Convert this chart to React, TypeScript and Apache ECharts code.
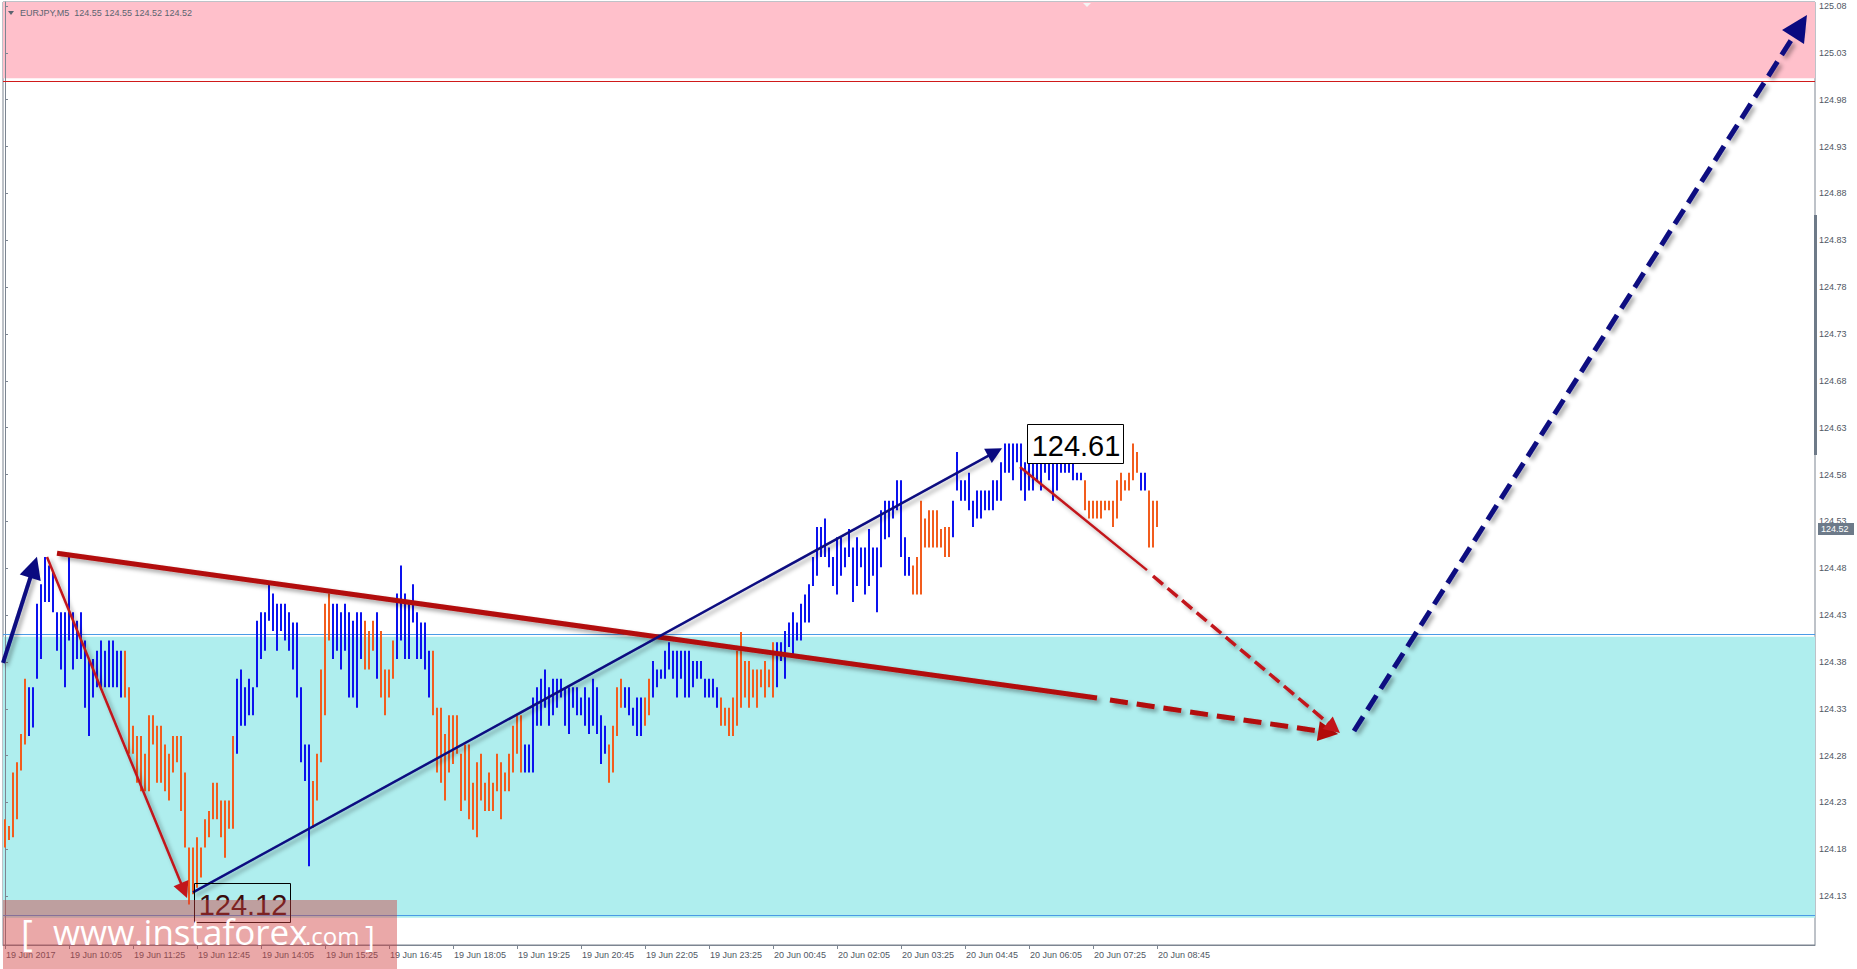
import React, { useEffect, useRef } from 'react';
import * as echarts from 'echarts';

// ---------- data ----------
const symbolTitle = 'EURJPY,M5';
const lastOHLC = [124.55, 124.55, 124.52, 124.52];
const currentPrice = 124.52;

// M5 bars, 19 Jun 2017 08:45 .. 20 Jun 2017 08:45 (index 0..288)
const barLows = [
  124.182,124.190,124.193,124.212,124.264,124.292,124.301,124.310,124.362,124.383,
  124.444,124.444,124.433,124.392,124.372,124.353,124.403,124.372,124.383,124.383,
  124.331,124.301,124.342,124.353,124.353,124.353,124.353,124.353,124.353,124.342,
  124.342,124.282,124.282,124.251,124.242,124.242,124.242,124.292,124.251,124.251,
  124.242,124.232,124.262,124.273,124.221,124.182,124.121,124.132,124.139,124.150,
  124.182,124.193,124.212,124.212,124.193,124.171,124.202,124.202,124.282,124.312,
  124.312,124.323,124.323,124.353,124.383,124.392,124.424,124.413,124.392,124.413,
  124.403,124.392,124.372,124.342,124.273,124.253,124.162,124.203,124.232,124.273,
  124.323,124.403,124.383,124.392,124.372,124.392,124.342,124.342,124.331,124.383,
  124.372,124.372,124.392,124.362,124.342,124.323,124.342,124.362,124.383,124.403,
  124.383,124.383,124.422,124.383,124.383,124.372,124.342,
  124.323,124.262,124.251,124.232,124.262,124.271,124.282,124.221,124.232,124.212,
  124.201,124.193,124.232,124.221,124.221,124.221,124.242,124.212,124.242,124.242,
  124.262,124.282,124.262,124.262,124.262,124.262,124.312,124.312,124.331,124.312,
  124.323,124.331,124.342,124.312,124.303,124.331,124.323,124.323,124.312,124.303,
  124.312,124.303,124.271,124.282,124.251,124.262,124.301,124.331,124.331,124.323,
  124.312,124.301,124.301,124.312,124.323,124.342,124.353,124.362,124.362,124.372,
  124.362,124.342,124.362,124.342,124.342,124.353,124.362,124.362,124.342,124.342,
  124.342,124.331,124.312,124.312,124.301,124.301,124.312,124.331,124.342,124.331,
  124.342,124.331,124.353,124.342,124.353,124.342,124.353,124.381,
  124.362,124.396,124.388,124.403,124.403,124.422,124.422,124.461,124.472,124.492,
  124.492,124.481,124.461,124.452,124.472,124.481,124.492,124.444,124.461,124.481,
  124.452,124.461,124.472,124.433,124.481,124.511,124.513,124.533,124.542,124.492,
  124.472,124.472,124.452,124.452,124.452,124.502,124.502,124.502,124.502,124.502,
  124.492,124.492,124.513,124.563,124.552,124.552,124.542,124.524,124.533,124.533,
  124.542,124.542,124.542,124.552,124.552,124.582,124.582,124.574,124.593,124.563,
  124.552,124.563,124.563,124.574,124.563,124.582,124.574,124.552,124.563,124.582,
  124.582,124.582,124.574,124.574,124.574,124.542,124.533,124.533,124.533,124.533,
  124.542,124.542,124.524,124.533,124.552,124.563,124.563,124.574,124.582,124.563,
  124.563,124.502,124.502,124.524,
];
const barHighs = [
  124.212,124.205,124.262,124.273,124.303,124.362,124.353,124.353,124.442,124.463,
  124.492,124.483,124.477,124.433,124.433,124.433,124.492,124.433,124.424,124.433,
  124.403,124.383,124.383,124.392,124.403,124.392,124.403,124.403,124.392,124.392,
  124.392,124.353,124.312,124.301,124.301,124.282,124.323,124.323,124.312,124.312,
  124.292,124.282,124.301,124.301,124.301,124.262,124.182,124.182,124.193,124.182,
  124.212,124.221,124.251,124.251,124.232,124.232,124.232,124.301,124.362,124.372,
  124.353,124.362,124.353,124.424,124.433,124.433,124.463,124.453,124.442,124.442,
  124.442,124.433,124.422,124.422,124.353,124.292,124.292,124.253,124.282,124.372,
  124.442,124.453,124.442,124.442,124.433,124.442,124.433,124.424,124.433,124.433,
  124.424,124.413,124.424,124.433,124.413,124.372,124.372,124.403,124.453,124.483,
  124.453,124.442,124.463,124.433,124.422,124.422,124.392,
  124.392,124.331,124.331,124.303,124.323,124.323,124.323,124.282,124.292,124.292,
  124.251,124.273,124.282,124.251,124.262,124.251,124.282,124.273,124.262,124.282,
  124.312,124.323,124.323,124.292,124.292,124.342,124.353,124.362,124.372,124.353,
  124.362,124.362,124.362,124.353,124.353,124.353,124.353,124.342,124.353,124.342,
  124.362,124.353,124.323,124.312,124.292,124.312,124.353,124.362,124.353,124.353,
  124.331,124.342,124.342,124.342,124.362,124.381,124.372,124.372,124.392,124.401,
  124.392,124.392,124.392,124.392,124.392,124.381,124.381,124.381,124.362,124.362,
  124.362,124.353,124.342,124.331,124.331,124.342,124.392,124.412,124.381,124.381,
  124.372,124.372,124.372,124.381,124.372,124.401,124.401,124.401,
  124.413,124.422,124.433,124.422,124.442,124.452,124.463,124.492,124.524,124.524,
  124.533,124.502,124.492,124.513,124.513,124.502,124.522,124.502,124.513,124.502,
  124.502,124.522,124.502,124.502,124.542,124.552,124.552,124.552,124.574,124.574,
  124.513,124.492,124.483,124.492,124.552,124.533,124.542,124.542,124.542,124.522,
  124.524,124.524,124.552,124.604,124.574,124.574,124.582,124.552,124.563,124.563,
  124.563,124.563,124.574,124.574,124.593,124.613,124.613,124.613,124.613,124.613,
  124.593,124.593,124.593,124.593,124.593,124.593,124.593,124.604,124.593,124.613,
  124.604,124.593,124.593,124.582,124.582,124.574,124.552,124.552,124.552,124.552,
  124.552,124.552,124.552,124.574,124.582,124.574,124.582,124.613,124.604,124.582,
  124.582,124.563,124.552,124.552,
];
// bar colour runs: B = rising bar (blue), O = falling bar (orange)
const barColorRuns: [string, number][] = [
  ['O', 6], ['B', 24], ['O', 28], ['B', 19], ['O', 5], ['B', 8], ['O', 3], ['B', 1],
  ['O', 4], ['B', 9], ['O', 23], ['B', 21], ['O', 4], ['B', 5], ['O', 2], ['B', 17],
  ['O', 14], ['B', 34], ['O', 10], ['B', 33], ['O', 14], ['B', 2], ['O', 3],
];

const xTickIndex = [0, 16, 32, 48, 64, 80, 96, 112, 128, 144, 160, 176, 192, 208, 224, 240, 256, 272, 288];
const xTickLabels = [
  '19 Jun 2017', '19 Jun 10:05', '19 Jun 11:25', '19 Jun 12:45', '19 Jun 14:05', '19 Jun 15:25',
  '19 Jun 16:45', '19 Jun 18:05', '19 Jun 19:25', '19 Jun 20:45', '19 Jun 22:05', '19 Jun 23:25',
  '20 Jun 00:45', '20 Jun 02:05', '20 Jun 03:25', '20 Jun 04:45', '20 Jun 06:05', '20 Jun 07:25',
  '20 Jun 08:45',
];
const yTickValues = [
  124.13, 124.18, 124.23, 124.28, 124.33, 124.38, 124.43, 124.48, 124.53, 124.58,
  124.63, 124.68, 124.73, 124.78, 124.83, 124.88, 124.93, 124.98, 125.03, 125.08,
];

// zones (price)
const resistanceZone = [125.003, 125.0843];
const supportZone = [124.107, 124.407];

// wave annotations: [barIndex, price]
const waveA = [[-0.5, 124.379], [7.15, 124.481]];
const waveB = [[10.5, 124.492], [44.75, 124.136]];
const waveC = [[47, 124.134], [247.5, 124.604]];
const trendLine = [[13, 124.496], [273, 124.3415]];
const trendForecast = [[276.25, 124.3393], [330.8, 124.3047]];
const waveDsolid = [[253.75, 124.588], [285.5, 124.478]];
const waveDforecast = [[287, 124.4717], [332.2, 124.3096]];
const waveEforecast = [[337.25, 124.3063], [448.75, 125.0587]];

// price tags [barIndex, price of the top-left corner]
const tagTexts = ['124.61', '124.12'];
const tagAnchors = [[255.5, 124.634], [47.25, 124.144]];

// ---------- styles ----------
const BLUE = '#0c12ee';
const ORANGE = '#f25c1d';
const NAVY = '#0a0a80';
const RED_THICK = '#b20a0a';
const RED_THIN = '#c2161b';
const AXIS_COLOR = '#7c8591';
const LABEL_COLOR = '#4f5764';
const FONT = '"Liberation Sans", Arial, sans-serif';

function expandRuns(runs: [string, number][]) {
  const out: string[] = [];
  runs.forEach(([c, n]) => { for (let k = 0; k < n; k++) out.push(c); });
  return out;
}

function seg(coords: number[][], color: string, width: number, dash: any, arrow: number) {
  return {
    type: 'lines',
    coordinateSystem: 'cartesian2d',
    z: 5,
    silent: true,
    symbol: arrow ? ['none', 'triangle'] : ['none', 'none'],
    symbolSize: arrow || 1,
    lineStyle: {
      color, width, type: dash, opacity: 1, curveness: 0,
      shadowColor: 'rgba(0,0,0,0.35)', shadowBlur: 4, shadowOffsetX: 3, shadowOffsetY: 3,
    },
    data: [{ coords }],
  };
}

export default function App() {
  const ref = useRef<HTMLDivElement>(null);

  useEffect(() => {
    if (!ref.current) return;
    const chart = echarts.init(ref.current, undefined, { renderer: 'svg' });
    const colors = expandRuns(barColorRuns);
    const bars = barLows.map((lo, i) => [i, lo, barHighs[i], colors[i] === 'B' ? 1 : 0]);

    const option: any = {
      animation: false,
      backgroundColor: '#ffffff',
      grid: {
        left: 3, right: 42, top: 2, bottom: 24,
        show: true, borderColor: AXIS_COLOR, borderWidth: 1, backgroundColor: '#ffffff',
      },
      xAxis: {
        type: 'value',
        min: -0.5,
        max: 452.5,
        splitLine: { show: false },
        axisLine: { show: true, lineStyle: { color: AXIS_COLOR } },
        axisTick: { show: true, customValues: xTickIndex, length: 4, lineStyle: { color: AXIS_COLOR } },
        axisLabel: {
          customValues: xTickIndex,
          formatter: (v: number) => {
            const k = xTickIndex.indexOf(Math.round(v));
            return k >= 0 ? xTickLabels[k] : '';
          },
          align: 'left',
          padding: [0, 0, 0, 1],
          margin: 5,
          fontSize: 9,
          fontFamily: FONT,
          color: LABEL_COLOR,
        },
      },
      yAxis: {
        type: 'value',
        position: 'right',
        min: 124.0779,
        max: 125.0843,
        splitLine: { show: false },
        axisLine: { show: true, lineStyle: { color: AXIS_COLOR } },
        axisTick: { show: true, customValues: yTickValues, length: 3, lineStyle: { color: AXIS_COLOR } },
        axisLabel: {
          customValues: yTickValues,
          formatter: (v: number) => v.toFixed(2),
          margin: 4,
          fontSize: 9,
          fontFamily: FONT,
          color: LABEL_COLOR,
        },
      },
      series: [
        {
          type: 'custom',
          name: 'bars',
          z: 2,
          silent: true,
          encode: { x: 0, y: [1, 2] },
          data: bars,
          renderItem: (params: any, api: any) => {
            const i = api.value(0);
            const lo = api.coord([i, api.value(1)]);
            const hi = api.coord([i, api.value(2)]);
            const up = api.value(3) === 1;
            return {
              type: 'rect',
              shape: { x: Math.round(lo[0]) - 1, y: hi[1], width: 2, height: Math.max(lo[1] - hi[1], 1) },
              style: { fill: up ? BLUE : ORANGE },
            };
          },
          markArea: {
            silent: true,
            z: 0,
            data: [
              [{ yAxis: resistanceZone[0], itemStyle: { color: '#ffc0cb' } }, { yAxis: resistanceZone[1] }],
              [{ yAxis: supportZone[0], itemStyle: { color: '#afeeee' } }, { yAxis: supportZone[1] }],
            ],
          },
          markLine: {
            silent: true,
            z: 1,
            symbol: ['none', 'none'],
            label: { show: false },
            data: [
              { yAxis: resistanceZone[0], lineStyle: { color: '#d01a1a', width: 1, type: 'solid' } },
              { yAxis: supportZone[1], lineStyle: { color: '#4a9be6', width: 1, type: 'solid' } },
              { yAxis: supportZone[0], lineStyle: { color: '#4a9be6', width: 1, type: 'solid' } },
            ],
          },
        },
        seg(trendLine, RED_THICK, 5, 'solid', 0),
        seg(trendForecast, RED_THICK, 5, [18, 9], 20),
        seg(waveA, NAVY, 4, 'solid', 22),
        seg(waveB, RED_THIN, 2.5, 'solid', 16),
        seg(waveC, NAVY, 2.5, 'solid', 16),
        seg(waveDsolid, RED_THIN, 2.5, 'solid', 0),
        seg(waveDforecast, RED_THIN, 3.5, [13, 6], 16),
        seg(waveEforecast, NAVY, 5, [17, 8], 26),
        {
          type: 'custom',
          name: 'tags',
          z: 10,
          silent: true,
          encode: { x: 0, y: 1 },
          data: tagAnchors,
          renderItem: (params: any, api: any) => {
            const p = api.coord([api.value(0), api.value(1)]);
            const k = params.dataIndex;
            const w = 96, h = 39;
            return {
              type: 'group',
              children: [
                {
                  type: 'rect',
                  shape: { x: Math.round(p[0]) + 0.5, y: Math.round(p[1]) + 0.5, width: w, height: h },
                  style: { fill: k === 0 ? '#ffffff' : 'rgba(0,0,0,0)', stroke: '#000000', lineWidth: 1 },
                },
                {
                  type: 'text',
                  x: Math.round(p[0]) + w / 2 + 1,
                  y: Math.round(p[1]) + h / 2 + 2,
                  style: {
                    text: tagTexts[k],
                    fill: k === 0 ? '#000000' : '#3a0c0c',
                    font: '29px ' + FONT,
                    align: 'center',
                    verticalAlign: 'middle',
                  },
                },
              ],
            };
          },
        },
        {
          type: 'custom',
          name: 'priceTag',
          z: 20,
          silent: true,
          encode: { x: 0, y: 1 },
          data: [[0, currentPrice]],
          renderItem: (params: any, api: any) => {
            const cs = params.coordSys;
            const p = api.coord([api.value(0), api.value(1)]);
            const x0 = cs.x + cs.width + 3;
            const yc = Math.round(p[1]) - 2;
            return {
              type: 'group',
              children: [
                { type: 'rect', shape: { x: x0, y: yc - 6, width: 36, height: 12 }, style: { fill: '#6d7a89' } },
                {
                  type: 'text', x: x0 + 3, y: yc,
                  style: { text: api.value(1).toFixed(2), fill: '#ffffff', font: '9px ' + FONT, verticalAlign: 'middle' },
                },
              ],
            };
          },
        },
      ],
      graphic: [
        { type: 'polygon', z: 50, shape: { points: [[8, 11], [14, 11], [11, 15]] }, style: { fill: '#5b6470' } },
        {
          type: 'text', z: 50, x: 20, y: 13,
          style: {
            text: symbolTitle + '  ' + lastOHLC.map((v) => v.toFixed(2)).join(' '),
            font: '9px ' + FONT, fill: '#5b6470', verticalAlign: 'middle',
          },
        },
        { type: 'polygon', z: 50, shape: { points: [[1083, 3], [1091, 3], [1087, 7]] }, style: { fill: '#f4f4f4' } },
        { type: 'rect', z: 50, shape: { x: 1814, y: 215, width: 3, height: 240 }, style: { fill: '#6e7a88' } },
        { type: 'rect', z: 100, shape: { x: 3, y: 900, width: 394, height: 69 }, style: { fill: 'rgba(208,62,62,0.45)' } },
        {
          type: 'text', z: 101, x: 21, y: 950,
          style: { text: '[', font: '36px "Open Sans", sans-serif', fill: '#ffffff', verticalAlign: 'bottom' },
        },
        {
          type: 'text', z: 101, x: 53, y: 949,
          style: { text: 'www.instaforex', font: '35px "Open Sans", sans-serif', fill: '#ffffff', verticalAlign: 'bottom' },
        },
        {
          type: 'text', z: 101, x: 305, y: 947,
          style: { text: '.com', font: '24px "Open Sans", sans-serif', fill: '#ffffff', verticalAlign: 'bottom' },
        },
        {
          type: 'text', z: 101, x: 365, y: 950,
          style: { text: ']', font: '30px "Open Sans", sans-serif', fill: '#ffffff', verticalAlign: 'bottom' },
        },
      ],
    };

    chart.setOption(option);
    return () => chart.dispose();
  }, []);

  return (
    <div
      ref={ref}
      style={{ position: 'fixed', left: 0, top: 0, width: 1857, height: 969, background: '#ffffff' }}
    />
  );
}
